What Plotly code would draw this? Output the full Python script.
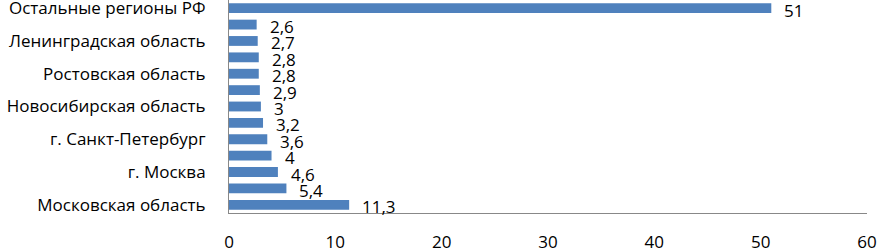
import plotly.graph_objects as go

# bottom to top
categories = ["Московская область", "", "г. Москва", "", "г. Санкт-Петербург", "",
              "Новосибирская область", "", "Ростовская область", "", "Ленинградская область", "",
              "Остальные регионы РФ"]
values = [11.3, 5.4, 4.6, 4, 3.6, 3.2, 3, 2.9, 2.8, 2.8, 2.7, 2.6, 51]
x_ticks = [0, 10, 20, 30, 40, 50, 60]

positions = list(range(len(values)))
labels = [(f"{v:g}").replace(".", ",") for v in values]

FONT = "Open Sans"
FS = 17

fig = go.Figure(go.Bar(
    x=values, y=positions, orientation="h",
    marker=dict(color="#4F81BD", line=dict(width=0)),
    width=0.6, hoverinfo="skip",
))

for v, p, t in zip(values, positions, labels):
    fig.add_annotation(x=v, y=p, text=t, showarrow=False, xanchor="left",
                       yanchor="middle", xshift=11, yshift=-2,
                       font=dict(family=FONT, size=FS, color="#000000"))

fig.update_layout(
    width=877, height=248,
    margin=dict(l=229, r=10, t=0, b=35),
    plot_bgcolor="white", paper_bgcolor="white",
    showlegend=False,
    font=dict(family=FONT, size=FS, color="#000000"),
    xaxis=dict(range=[0, 60], tickvals=x_ticks, showgrid=False, zeroline=False,
               showline=True, linecolor="#888888", linewidth=1,
               ticks="", ticklabelstandoff=14, automargin=False,
               ticklabeloverflow="allow",
               tickfont=dict(family=FONT, size=FS)),
    yaxis=dict(range=[-0.5, len(values) - 0.5], tickvals=positions, ticktext=categories,
               showgrid=False, zeroline=False, showline=True, linecolor="#888888",
               linewidth=1, ticks="", ticklabelstandoff=19, automargin=False,
               ticklabeloverflow="allow",
               tickfont=dict(family=FONT, size=FS)),
)

fig.write_html("out.html", config={"staticPlot": True, "displayModeBar": False},
               post_script="document.body.style.margin='0';")
